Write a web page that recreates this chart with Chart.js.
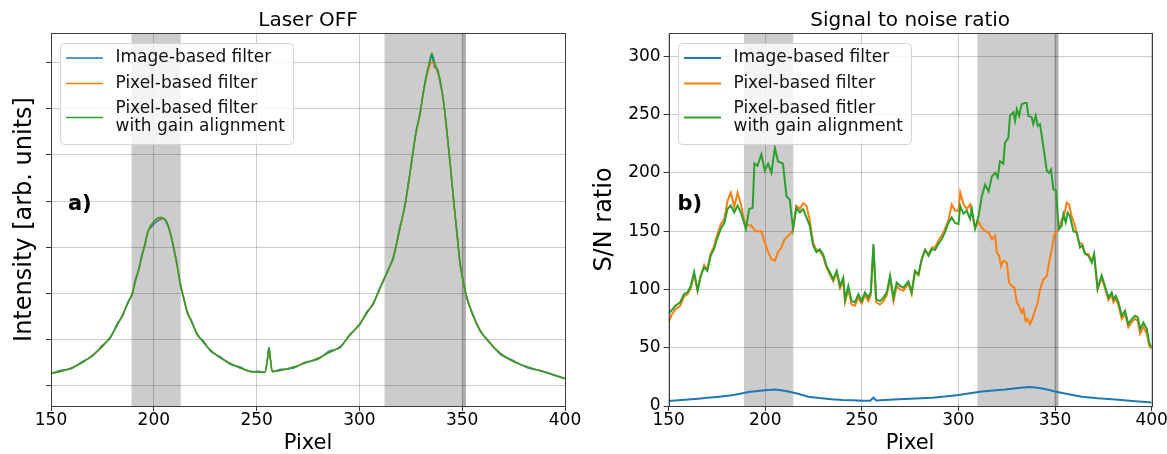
<!DOCTYPE html>
<html>
<head>
<meta charset="utf-8">
<title>Laser OFF / Signal to noise ratio</title>
<script src="https://cdn.jsdelivr.net/npm/chart.js@4"></script>
<style>
  html, body { margin: 0; padding: 0; background: #fff; overflow: hidden; }
  #wrap { position: relative; width: 1167px; height: 454px; overflow: hidden; }
  canvas { position: absolute; top: 0; }
  #cLeft { left: 0; }
  #cRight { left: 580px; }
</style>
</head>
<body>
<div id="wrap">
  <canvas id="cLeft" width="600" height="454"></canvas>
  <canvas id="cRight" width="600" height="454"></canvas>
</div>
<script>
// ---- data ----
const xTicks = [150, 200, 250, 300, 350, 400];
const snTicks = [0, 50, 100, 150, 200, 250, 300];

// left panel: intensity (arb. units, one unit per tick)
const leftX = [150,155,160,165,170,175,179,182,185,187.5, 189.5,191,192.6,194.2,195.8,197,198.3,200,201.5,203.1,
  204.8,206.4,208,209.6,211.2,212.9,214.5,216.1,218.5,221, 224,227.5,232,237.2,242,246.9,251,254,255.2,256,
  256.8,257.6,262,268,274,280,285,290.6,295,300.4, 303.5,306.8,309.5,311.7,314,316.6,319.5,322.3,324,325.5,
  327.5,329.5,331,332.5,334,335.2,336.5,338,339.3,341, 342.5,344,345.7,347.3,349,350.5,352.2,355,358.7,363,
  368.4,374,381.4,390,400];
const leftImage = [0.27,0.34,0.38,0.52,0.64,0.88,1.05,1.33,1.53,1.83, 1.98,2.3,2.49,2.84,3.06,3.33,3.42,3.5,3.56,3.6,
  3.63,3.5,3.33,2.98,2.66,2.18,1.93,1.6,1.4,1.11, 0.98,0.76,0.64,0.47,0.41,0.31,0.32,0.29,0.56,0.84,
  0.54,0.32,0.36,0.39,0.52,0.58,0.75,0.83,1.1,1.34, 1.6,1.77,2.08,2.27,2.53,2.77,3.4,3.92,4.45,4.85,
  5.5,5.86,6.35,6.7,6.95,7.15,6.9,6.85,6.55,6.15, 5.5,4.9,4.05,3.4,2.62,2.28,1.9,1.58,1.19,0.97,
  0.69,0.57,0.4,0.31,0.16];
const leftPixel = [0.27,0.32,0.39,0.5,0.66,0.85,1.07,1.3,1.55,1.8, 2.0,2.25,2.51,2.8,3.09,3.3,3.45,3.55,3.61,3.63,
  3.61,3.54,3.3,3.02,2.63,2.22,1.9,1.64,1.37,1.14, 0.95,0.78,0.62,0.49,0.39,0.32,0.3,0.3,0.55,0.82,
  0.55,0.31,0.34,0.41,0.5,0.6,0.72,0.85,1.08,1.36, 1.57,1.79,2.05,2.29,2.5,2.8,3.35,3.95,4.4,4.89,
  5.45,5.9,6.3,6.65,6.9,7.0,6.95,6.78,6.6,6.1, 5.54,4.85,4.1,3.35,2.66,2.25,1.93,1.55,1.21,0.95,
  0.71,0.55,0.42,0.3,0.16];
const leftGain = [0.27,0.32,0.39,0.5,0.66,0.86,1.07,1.3,1.56,1.8, 2.0,2.26,2.52,2.8,3.1,3.31,3.46,3.56,3.62,3.65,
  3.62,3.55,3.31,3.02,2.64,2.22,1.9,1.64,1.37,1.14, 0.95,0.78,0.62,0.49,0.39,0.32,0.3,0.3,0.55,0.83,
  0.55,0.31,0.34,0.41,0.5,0.6,0.72,0.85,1.08,1.36, 1.57,1.8,2.06,2.3,2.5,2.82,3.37,3.97,4.42,4.91,
  5.47,5.92,6.32,6.7,7.0,7.2,7.02,6.82,6.62,6.12, 5.56,4.86,4.1,3.35,2.66,2.25,1.93,1.55,1.21,0.95,
  0.71,0.55,0.42,0.3,0.16];

// right panel: S/N ratio
const rightImageX = [150,155,160,165.4,170,175,182.7,187,191.3,196,200,205,208,212,217,222.3,228,234.4,240,245,
  250.5,254.3,256,257.5,262,269,278,286.4,293,300,306,312.1,318,324.2,330,336.3,340,343.2,347,350,
  357,363.9,372,381.2,390,400];
const rightImage = [4.3,5,5.6,6.3,7,7.8,9.2,10.5,12,12.8,13.5,14.1,13.6,12.4,10.5,8.0,6.8,5.8,5.2,4.9,
  4.6,4.6,7.1,4.7,5.2,5.8,6.4,7.0,8.2,9.5,11,12.4,13.2,14.1,15.2,16.4,15.9,15.0,13.8,12.4,
  10,8,6.6,5.5,4.3,3];

const rightPixelX = [150,151.5,153.5,156,158,159.8,161.5,163.2,165,166.6, 168.4,170,171.8,173.5,175,177,178.8,180.5,182.2,184,
  185.7,187.4,189,190.5,192.6,195,198,199.8,201.5,203.2, 205,206.6,208.4,210,212,213.6,214.4,216.1,217.9,219.6,
  221.3,223,224.8,226.5,228.2,230,231.7,233.4,235.2,237, 238.7,240.4,241.3,243,244.7,246.4,248.2,249.9,251.6,253.4,
  254.6,256,257.4,259.4,261.2,262.9,264.6,266.4,268,269.8, 271.5,274.1,275.8,277.5,279.3,281,282.7,284.5,286.2,287.9,
  289.6,291.3,293,294.8,296.5,298.3,300,300.9,302.6,304.3, 306,306.9,308.6,310.4,312.1,313.8,315.6,317.3,319,319.8,
  321,322,323.2,325,326.2,327.5,329,330.2,331.4,332.7, 333.6,334.8,335.8,337,338.2,339.6,341,342.2,343.9,345.7,
  346.9,348.3,349.6,350.9,352,353.4,354.8,356,357.2,358.6, 360.3,362.4,364.1,365.5,367.2,369,370.2,372,374.1,375.8,
  377.6,379.3,380.2,381.4,382.8,384.5,386.2,387.9,389.7,391.4, 392.8,394,395.7,397.5,398.7,400];
const rightPixel = [72,78,83,86,94,96,101,113,99,111, 121,117,131,137,146,156,160,176,183,171,
  183,173,160,155,155,150,150,140,132,126, 124.5,132,136,143,146,149,152,172,169,174,
  172,160,140,134,133,128,119,113,107,114, 101,107,89,100,87,86,93,88,95,90,
  95,136,89,87,90,95,109,90,103,100, 99,105,96,115,112,126,134,130,136,136,
  142,146,152,159,173,167.5,167.5,183,173,169, 173,166,153,158,153,150,149,143,146,132,
  129,120,124.5,123,106,103,101.6,88.6,85.8,80, 83,73,74.6,70.3,74.6,81.8,88.6,100,108.6,111.5,
  123,134.5,147,150,151.6,160,164.5,174.5,173,163, 154.5,140,139,130.5,130.5,124.5,129,100.5,110,101,
  91,95,89,92,86,74.6,79,67.5,72,75, 73,62,68,62,51.6,49];

const rightGainX = [150,151.5,153.5,156,158,159.8,161.5,163.2,165,166.6, 168.4,170,171.8,173.5,175,177,178.8,180.5,182.2,184,
  185.7,187.4,190,191.7,193.5,194.4,196,198,199.8,201.5, 203.2,205,206.6,209.2,211,212.7,214.4,216.1,217.9,219.6,
  221.3,223,224.8,226.5,228.2,230,231.7,233.4,235.2,237, 238.7,240.4,241.3,243,244.7,246.4,248.2,249.9,251.6,253.4,
  254.6,256,257.4,259.4,261.2,262.9,264.6,266.4,268,269.8, 271.5,274.1,275.8,277.5,279.3,281,282.7,284.5,286.2,287.9,
  289.6,291.3,293,294.8,296.5,298.3,300,300.9,302.6,304.3, 306,306.9,308.6,310.4,312.1,313.8,315.6,317.3,319,320.3,
  321.5,323.2,324.1,325.8,326.7,328.4,329.3,330.2,331.4,332.7, 334.4,335.3,336.2,337.9,338.7,340,341,342.2,343.9,345.7,
  346.9,347.9,349.1,350.5,351.4,352,353.4,354.3,355.5,356.5, 357.7,359.5,361.2,362.9,364.1,365.5,367.2,369,370.2,372,
  374.1,375.8,377.6,379.3,380.2,381.4,382.8,384.5,386.2,387.9, 389.7,391.4,392.8,394,395.7,397.5,398.7,400];
const rightGain = [79,82,86,89,96,97.5,103,115,99,112, 119,116,129,134.5,143,152,157,169,172,166,
  172,166,152,169,170,208,206,216,202,208, 200,221.5,210,208,180,177,152,170,166,169,
  162,155,137.5,132,134.5,130,120,115,108.6,116, 103,110,91.5,103,90,89,96,90,97.5,93,
  97.5,139,91.5,90,93,97.5,112,93,106,103, 101.5,107,97.5,116,113,126,134,129,134.5,134,
  139,143,149,157,161.7,157,156,171.7,165,167.5, 160.6,169,152,163,180,190,184,197,200,196,
  210,208,226,230,249,252,244.6,254.6,249,258.9, 260,260,249,247.6,241.8,249,240.4,241.8,223,201.7,
  200,203,186,184.6,163,151.6,154.5,164.5,157.5,166, 163,150,149,136,137.5,130.5,129,123,130.5,100.5,
  112,103,93,97.5,91.6,94.5,89,77.5,81.8,70.3, 74.6,77.5,76,66,71.7,66,54.4,50];

// ---- styling ----
const FONT = 'DejaVu Sans';
const GRID = 'rgba(0,0,0,0.2)';
const SHADE = 'rgba(128,128,128,0.4)';
const BLUE = '#1f77b4', ORANGE = '#ff7f0e', GREEN = '#2ca02c';

function pts(xs, ys) {
  return xs.map((x, i) => ({ x: x, y: ys[i] }));
}

// shaded spans, frame, title, panel letter, legend (matplotlib look)
const panelDecor = {
  id: 'panelDecor',
  beforeDraw(chart, args, o) {
    const ctx = chart.ctx, a = chart.chartArea, x = chart.scales.x;
    ctx.save();
    ctx.fillStyle = SHADE;
    o.spans.forEach(s => {
      const p0 = x.getPixelForValue(s[0]), p1 = x.getPixelForValue(s[1]);
      ctx.fillRect(p0, a.top, p1 - p0, a.bottom - a.top);
    });
    ctx.restore();
  },
  afterDraw(chart, args, o) {
    const ctx = chart.ctx, a = chart.chartArea;
    const x = chart.scales.x, y = chart.scales.y;
    ctx.save();
    ctx.strokeStyle = '#3c3c3c';
    ctx.lineWidth = 1;
    ctx.strokeRect(Math.round(a.left) + 0.5, Math.round(a.top) + 0.5,
      Math.round(a.right) - Math.round(a.left), Math.round(a.bottom) - Math.round(a.top));

    ctx.fillStyle = '#000';
    ctx.textAlign = 'center';
    ctx.textBaseline = 'middle';
    ctx.font = '20px "' + FONT + '"';
    ctx.fillText(o.title, (a.left + a.right) / 2, a.top - 12);

    ctx.font = 'bold 21px "' + FONT + '"';
    ctx.fillText(o.letter.text, x.getPixelForValue(o.letter.x), y.getPixelForValue(o.letter.y));

    const g = o.legend;
    const bx = Math.round(a.left + g.x) + 0.5, by = Math.round(a.top + g.y) + 0.5;
    ctx.beginPath();
    if (ctx.roundRect) ctx.roundRect(bx, by, g.w, g.h, 4); else ctx.rect(bx, by, g.w, g.h);
    ctx.fillStyle = 'rgba(255,255,255,0.8)';
    ctx.fill();
    ctx.strokeStyle = '#d4d4d4';
    ctx.stroke();

    ctx.font = '17px "' + FONT + '"';
    ctx.textAlign = 'left';
    chart.data.datasets.forEach((ds, i) => {
      const cy = by + g.rows[i];
      ctx.strokeStyle = ds.borderColor;
      ctx.lineWidth = ds.borderWidth;
      ctx.beginPath();
      ctx.moveTo(bx + g.handleX, cy);
      ctx.lineTo(bx + g.handleX + g.handleLen, cy);
      ctx.stroke();
      const lines = ds.label.split('\n');
      ctx.fillStyle = '#111';
      lines.forEach((txt, k) => {
        ctx.fillText(txt, bx + g.textX, cy + (k - (lines.length - 1) / 2) * g.lineGap);
      });
    });
    ctx.restore();
  }
};

function makePanel(id, o) {
  const tickFont = { family: FONT, size: 17 };
  const curve = o.smooth ? 'monotone' : 'default';
  return new Chart(document.getElementById(id), {
    type: 'line',
    data: {
      datasets: [
        { label: 'Image-based filter', data: pts(o.blueX, o.blue), borderColor: BLUE, borderWidth: o.lw,
          order: 3, cubicInterpolationMode: curve },
        { label: 'Pixel-based filter', data: pts(o.orangeX, o.orange), borderColor: ORANGE, borderWidth: o.lw,
          order: 2, cubicInterpolationMode: curve },
        { label: o.greenLabel, data: pts(o.greenX, o.green), borderColor: GREEN, borderWidth: o.lw,
          order: 1, cubicInterpolationMode: curve }
      ]
    },
    plugins: [panelDecor],
    options: {
      responsive: false,
      animation: false,
      devicePixelRatio: 1,
      events: [],
      layout: { padding: { top: 33, right: o.padRight, left: 0, bottom: 0 } },
      elements: { point: { radius: 0 }, line: { tension: 0, fill: false } },
      plugins: {
        legend: { display: false },
        tooltip: { enabled: false },
        panelDecor: { spans: o.spans, title: o.title, letter: o.letter, legend: o.legend }
      },
      scales: {
        x: {
          type: 'linear', min: 150, max: 400,
          afterFit: s => { s.height = 48; },
          afterBuildTicks: s => { s.ticks = xTicks.map(v => ({ value: v })); },
          ticks: { font: tickFont, color: '#000', padding: -1, maxRotation: 0 },
          grid: { color: GRID, lineWidth: 1, tickLength: 5, tickColor: '#333' },
          border: { display: false },
          title: { display: true, text: 'Pixel', color: '#000', padding: 0,
                   font: { family: FONT, size: 21, lineHeight: 1 } }
        },
        y: {
          type: 'linear', min: o.yMin, max: o.yMax,
          afterFit: s => { s.width = o.yWidth; },
          afterBuildTicks: s => { s.ticks = o.yTicks.map(v => ({ value: v })); },
          ticks: { display: o.yLabels, font: tickFont, color: '#000', padding: 3 },
          grid: { color: GRID, lineWidth: 1, tickLength: 5, tickColor: '#333' },
          border: { display: false },
          title: { display: true, text: o.yTitle, color: '#000', padding: { top: 13, bottom: 0 },
                   font: { family: FONT, size: 24, lineHeight: 1 } }
        }
      }
    }
  });
}

const legendBox = { x: 9, y: 10, w: 233, h: 101, rows: [14.5, 40, 74], lineGap: 17.7,
  handleX: 5.5, handleLen: 37, textX: 55 };

makePanel('cLeft', {
  title: 'Laser OFF',
  yTitle: 'Intensity [arb. units]',
  yMin: -0.433, yMax: 7.64, yTicks: [0, 1, 2, 3, 4, 5, 6, 7], yLabels: false, yWidth: 51,
  padRight: 35, lw: 1.5, smooth: true,
  blueX: leftX, blue: leftImage, orangeX: leftX, orange: leftPixel, greenX: leftX, green: leftGain,
  greenLabel: 'Pixel-based filter\nwith gain alignment',
  spans: [[189.2, 213.1], [312.2, 351.8], [349.8, 351.8]],
  letter: { text: 'a)', x: 164, y: 3.92 },
  legend: legendBox
});

makePanel('cRight', {
  title: 'Signal to noise ratio',
  yTitle: 'S/N ratio',
  yMin: 0, yMax: 320, yTicks: snTicks, yLabels: true, yWidth: 88.6,
  padRight: 28.3, lw: 2, smooth: false,
  blueX: rightImageX, blue: rightImage, orangeX: rightPixelX, orange: rightPixel, greenX: rightGainX, green: rightGain,
  greenLabel: 'Pixel-based fitler\nwith gain alignment',
  spans: [[189.0, 214.5], [309.8, 351.7], [349.6, 351.7]],
  letter: { text: 'b)', x: 161, y: 173 },
  legend: legendBox
});
</script>
</body>
</html>
